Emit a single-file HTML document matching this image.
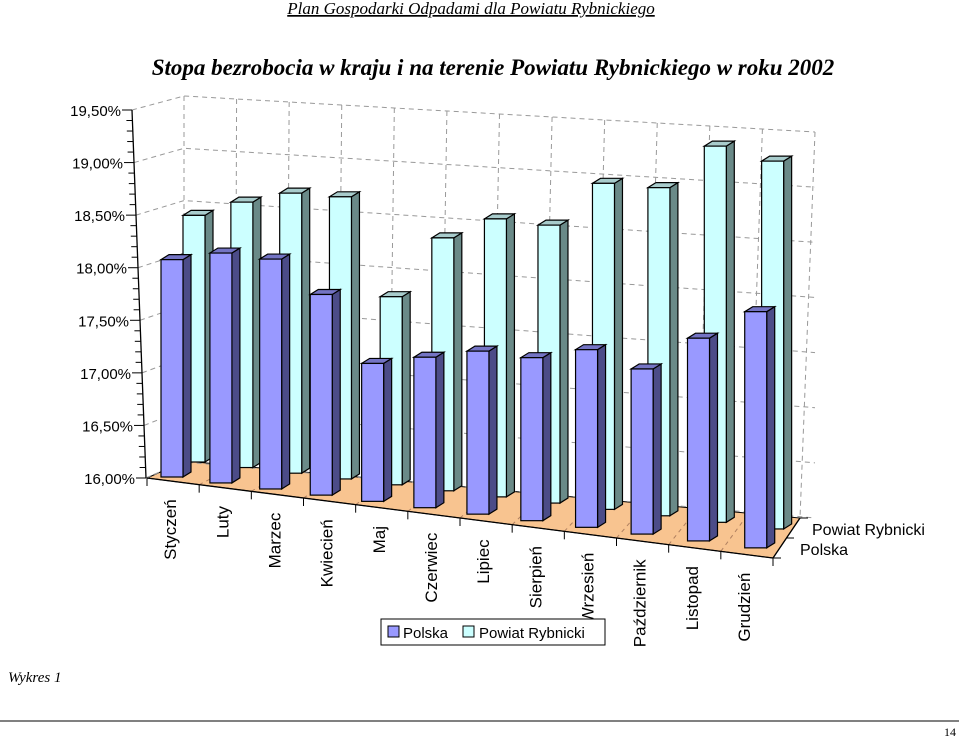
<!DOCTYPE html>
<html><head><meta charset="utf-8">
<style>
body{margin:0;background:#fff;}
svg{display:block;font-family:"Liberation Sans",sans-serif;}
</style></head>
<body>
<svg width="959" height="738" viewBox="0 0 959 738" id="chart">
<text x="471" y="14" text-anchor="middle" font-family="Liberation Serif" font-style="italic" font-size="17" text-decoration="underline">Plan Gospodarki Odpadami dla Powiatu Rybnickiego</text>
<text x="493" y="75" text-anchor="middle" font-family="Liberation Serif" font-style="italic" font-weight="bold" font-size="23">Stopa bezrobocia w kraju i na terenie Powiatu Rybnickiego w roku 2002</text>
<g id="walls"></g>
<g id="bars"></g>
<g id="axes"></g>
<g>
<rect x="381" y="619" width="224" height="26" fill="#fff" stroke="#000" stroke-width="1"/>
<rect x="388" y="626" width="11" height="11" fill="#9999ff" stroke="#000"/>
<text x="403" y="638" font-size="15">Polska</text>
<rect x="463" y="626" width="11" height="11" fill="#ccffff" stroke="#000"/>
<text x="479" y="638" font-size="15">Powiat Rybnicki</text>
</g>
<text x="8" y="682" font-family="Liberation Serif" font-style="italic" font-size="15">Wykres 1</text>
<line x1="0" y1="721" x2="959" y2="721" stroke="#000" stroke-width="1"/>
<text x="944" y="736" font-family="Liberation Serif" font-size="12">14</text>
</svg>
<script>
const categories=["Styczeń","Luty","Marzec","Kwiecień","Maj","Czerwiec","Lipiec","Sierpień","Wrzesień","Październik","Listopad","Grudzień"];
const polska=[17.04,17.10,17.10,16.96,16.66,16.72,16.78,16.78,16.85,16.79,16.97,17.13];
const powiat=[17.18,17.27,17.34,17.35,16.90,17.21,17.33,17.33,17.56,17.57,17.80,17.76];
const tickValues=[16,16.5,17,17.5,18,18.5,19,19.5];
const tickLabels=["16,00%","16,50%","17,00%","17,50%","18,00%","18,50%","19,00%","19,50%"];
const seriesNames=["Powiat Rybnicki","Polska"];

const NS="http://www.w3.org/2000/svg";
function mk(parent,tag,attrs){const e=document.createElementNS(NS,tag);for(const k in attrs)e.setAttribute(k,attrs[k]);parent.appendChild(e);return e;}
const VMIN=16,VMAX=19.5;
function xFront(i){return 172+48.5*i+0.415*i*i;}
function xBack(i){return 194+47.4*i+0.473*i*i;}
function yBaseFront(x){return 477+(x-172)*0.1214;}
function yBaseBack(x){return 462+(x-194)*0.1157;}
function scaleAt(i){return 209;}
function hVal(v,i){return (v-VMIN)*scaleAt(i);}
function axisX(v){return 146-(v-VMIN)/(VMAX-VMIN)*14;}
function axisY(v){return 478-(v-VMIN)/(VMAX-VMIN)*368;}
function wallY(v,t){const base=462+56*t,top=96+36*t;return base-(v-VMIN)/(VMAX-VMIN)*(base-top);}

const walls=document.getElementById('walls');
const floor=mk(walls,'polygon',{points:"147,478 773,558 800,518 185,461",fill:"#f8c490",stroke:"#000","stroke-width":"1"});


for(let k=1;k<12;k++){
  const t=k/12;
  const l=mk(walls,'line',{x1:147+626*t,y1:478+80*t,x2:185+615*t,y2:461+57*t,stroke:"#b08060","stroke-dasharray":"4,4","stroke-width":"1"});
  
  
}
tickValues.forEach(v=>{
  const p=mk(walls,'polyline',{points:`${axisX(v)},${axisY(v)} 184,${wallY(v,0)} 815,${wallY(v,1)}`,fill:"none",stroke:"#999","stroke-dasharray":"5,4","stroke-width":"1"});
  
  
});
for(let k=0;k<=12;k++){
  const t=k/12;
  const l=mk(walls,'line',{x1:184+631*t,y1:wallY(VMAX,t),x2:184+616*t,y2:wallY(VMIN,t),stroke:"#999","stroke-dasharray":"5,4","stroke-width":"1"});
  
  
}
mk(walls,'line',{x1:146,y1:478,x2:184,y2:461,stroke:"#999","stroke-dasharray":"5,4"});

const bars=document.getElementById('bars');
const W=22,DX=8,DY=-5;
function bar(x,yb,h,cols,name){
  const g=mk(bars,'g',{});
  
  
  const xl=x-W/2,xr=x+W/2,yt=yb-h;
  mk(g,'polygon',{points:`${xr},${yb} ${xr+DX},${yb+DY} ${xr+DX},${yt+DY} ${xr},${yt}`,fill:cols[1],stroke:"#000","stroke-width":"1.2"});
  mk(g,'polygon',{points:`${xl},${yt} ${xr},${yt} ${xr+DX},${yt+DY} ${xl+DX},${yt+DY}`,fill:cols[2],stroke:"#000","stroke-width":"1.2"});
  mk(g,'rect',{x:xl,y:yt,width:W,height:h,fill:cols[0],stroke:"#000","stroke-width":"1.2"});
}
powiat.forEach((v,i)=>{const x=xBack(i);bar(x,yBaseBack(x),hVal(v,i),["#ccffff","#6a8a88","#a8cccc"],"bar-powiat-"+i);});
polska.forEach((v,i)=>{const x=xFront(i);bar(x,yBaseFront(x),hVal(v,i),["#9999ff","#4c4c88","#7474c4"],"bar-polska-"+i);});

const axes=document.getElementById('axes');
mk(axes,'line',{x1:axisX(VMAX),y1:axisY(VMAX),x2:axisX(VMIN),y2:axisY(VMIN),stroke:"#000","stroke-width":"1.3"});
for(let k=0;k<=35;k++){
  const v=VMIN+k*0.1;const x=axisX(v),y=axisY(v);
  const len=(k%5===0)?10:6;
  mk(axes,'line',{x1:x-len,y1:y,x2:x,y2:y,stroke:"#000","stroke-width":"1"});
}
tickValues.forEach((v,i)=>{
  const t=mk(axes,'text',{x:axisX(v)-11,y:axisY(v)+6,"text-anchor":"end","font-size":"15"});
  t.textContent=tickLabels[i];
  
  
});
mk(axes,'line',{x1:147,y1:478,x2:773,y2:558,stroke:"#000","stroke-width":"1.3"});
for(let k=0;k<=12;k++){const t=k/12;const x=147+626*t,y=478+80*t;mk(axes,'line',{x1:x,y1:y,x2:x,y2:y+8,stroke:"#000"});}
categories.forEach((c,i)=>{
  const t=(i+0.5)/12;const x=147+626*t-2,y=478+80*t+18;
  const tx=mk(axes,'text',{x:0,y:0,transform:`translate(${x+5},${y}) rotate(-90)`,"text-anchor":"end","font-size":"17"});
  tx.textContent=c;
  
  
});
mk(axes,'line',{x1:773,y1:558,x2:800,y2:518,stroke:"#000","stroke-width":"1.3"});
[[773,558],[786,538],[800,518]].forEach(p=>mk(axes,'line',{x1:p[0],y1:p[1],x2:p[0]+8,y2:p[1],stroke:"#000"}));
const s1=mk(axes,'text',{x:812,y:535,"font-size":"16"});s1.textContent=seriesNames[0];


const s2=mk(axes,'text',{x:800,y:555,"font-size":"16"});s2.textContent=seriesNames[1];


</script>
</body></html>
